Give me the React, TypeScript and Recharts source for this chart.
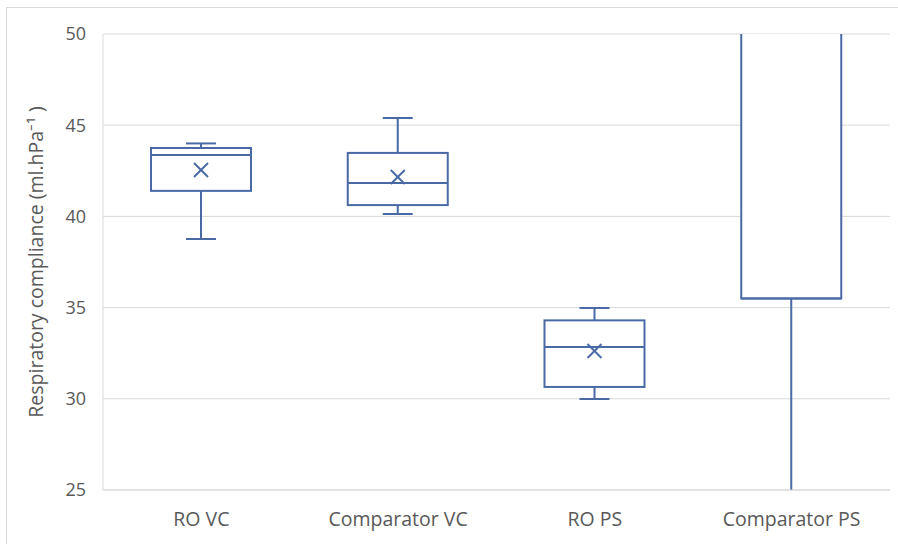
import React from "react";
import { Bar, CartesianGrid, ComposedChart, XAxis, YAxis } from "recharts";

const categories = ["RO VC", "Comparator VC", "RO PS", "Comparator PS"];
const minValues = [38.76, 40.13, 29.99, 20.0];
const q1Values = [41.4, 40.62, 30.65, 35.5];
const medianValues = [43.37, 41.83, 32.84, 35.5];
const q3Values = [43.75, 43.48, 34.3, 58.0];
const maxValues = [44.0, 45.4, 34.98, 65.0];
const meanValues = [42.54, 42.16, 32.62, 54.0];
const yTicks = [25, 30, 35, 40, 45, 50];

const yDomain: [number, number] = [25, 50];
const boxColor = "#4a6aa6";
const textColor = "#595959";
const gridColor = "#d9d9d9";
const fontFamily = "'Open Sans', sans-serif";

const data = categories.map((name, i) => ({
  name,
  range: [minValues[i], maxValues[i]],
  min: minValues[i],
  q1: q1Values[i],
  median: medianValues[i],
  q3: q3Values[i],
  max: maxValues[i],
  mean: meanValues[i],
}));

// draws one box from the pixel span the range bar got from the y scale
function BoxShape(props: any) {
  const { x, y, width, height, payload, index } = props;
  const top = Math.min(y, y + height);
  const bottom = Math.max(y, y + height);
  const { min, q1, median, q3, max, mean } = payload;
  const py = (v: number) => top + ((bottom - top) * (max - v)) / (max - min);
  const cx = x + width / 2;
  const cap = 15;
  const m = 7;
  const clipId = `box-clip-${index}`;
  const clipTop = py(yDomain[1]) - 2;
  const clipBottom = py(yDomain[0]) + 2;

  return (
    <g>
      <defs>
        <clipPath id={clipId}>
          <rect x={x - 40} y={clipTop} width={width + 80} height={clipBottom - clipTop} />
        </clipPath>
      </defs>
      <g clipPath={`url(#${clipId})`} stroke={boxColor} strokeWidth={2} fill="none">
        <line x1={cx} y1={py(max)} x2={cx} y2={py(q3)} />
        <line x1={cx} y1={py(q1)} x2={cx} y2={py(min)} />
        <line x1={cx - cap} y1={py(max)} x2={cx + cap} y2={py(max)} />
        <line x1={cx - cap} y1={py(min)} x2={cx + cap} y2={py(min)} />
        <rect x={x} y={py(q3)} width={width} height={py(q1) - py(q3)} fill="#ffffff" />
        <line x1={x} y1={py(median)} x2={x + width} y2={py(median)} />
        <line x1={cx - m} y1={py(mean) - m} x2={cx + m} y2={py(mean) + m} />
        <line x1={cx - m} y1={py(mean) + m} x2={cx + m} y2={py(mean) - m} />
      </g>
    </g>
  );
}

function YTitle(props: any) {
  const { viewBox } = props;
  const cx = 35;
  const cy = viewBox.y + viewBox.height / 2;
  return (
    <text
      x={cx}
      y={cy}
      transform={`rotate(-90, ${cx}, ${cy})`}
      textAnchor="middle"
      dominantBaseline="central"
      fill={textColor}
      fontSize={19.5}
      fontFamily={fontFamily}
    >
      Respiratory compliance (ml.hPa⁻¹ )
    </text>
  );
}

export default function App() {
  return (
    <div
      style={{
        position: "fixed",
        top: 0,
        left: 0,
        width: 898,
        height: 544,
        background: "#ffffff",
        overflow: "hidden",
      }}
    >
      <div
        style={{
          position: "absolute",
          left: 6,
          top: 7,
          width: 900,
          height: 560,
          borderLeft: `1px solid ${gridColor}`,
          borderTop: `1px solid ${gridColor}`,
        }}
      />
      <div style={{ position: "absolute", top: 0, left: 0 }}>
        <ComposedChart
          width={898}
          height={544}
          data={data}
          margin={{ top: 34, right: 8, bottom: 0, left: 43 }}
        >
          <CartesianGrid vertical={false} stroke={gridColor} strokeWidth={1} />
          <XAxis
            dataKey="name"
            height={54}
            axisLine={{ stroke: gridColor }}
            tickLine={false}
            tickSize={0}
            tickMargin={22}
            tick={{ fill: textColor, fontSize: 19.5, fontFamily }}
          />
          <YAxis
            width={60}
            domain={yDomain}
            ticks={yTicks}
            allowDataOverflow
            axisLine={{ stroke: gridColor }}
            tickLine={false}
            tickSize={0}
            tickMargin={17}
            tick={{ fill: textColor, fontSize: 18, fontFamily }}
            label={<YTitle />}
          />
          <Bar
            dataKey="range"
            barSize={100}
            shape={<BoxShape />}
            isAnimationActive={false}
          />
        </ComposedChart>
      </div>
    </div>
  );
}
